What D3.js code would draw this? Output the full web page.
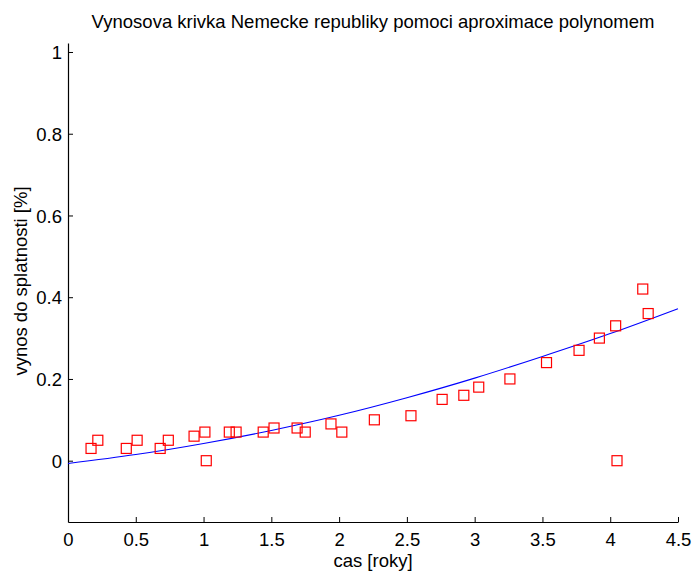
<!DOCTYPE html>
<html>
<head>
<meta charset="utf-8">
<script src="https://cdn.jsdelivr.net/npm/d3@7"></script>
<style>
  html, body { margin: 0; padding: 0; background: #fff; }
  svg { display: block; font-family: "Liberation Sans", Arial, sans-serif; }
</style>
</head>
<body>
<svg id="chart" width="692" height="572"></svg>
<script>
// Maturity in years and observed yield
const maturity = [0.17, 0.22, 0.43, 0.51, 0.68, 0.74, 0.93, 1.01, 1.02, 1.19,
                  1.24, 1.44, 1.52, 1.69, 1.75, 1.94, 2.02, 2.26, 2.53, 2.76,
                  2.92, 3.03, 3.26, 3.53, 3.77, 3.92, 4.04, 4.05, 4.24, 4.28];
const yieldPct = [0.03, 0.05, 0.03, 0.05, 0.03, 0.05, 0.06, 0.07, 0.00, 0.07,
                  0.07, 0.07, 0.08, 0.08, 0.07, 0.09, 0.07, 0.10, 0.11, 0.15,
                  0.16, 0.18, 0.20, 0.24, 0.27, 0.30, 0.33, 0.00, 0.42, 0.36];
// Polynomial approximation of the yield curve, sampled every half year
const curveMaturity = [0, 0.5, 1, 1.5, 2, 2.5, 3, 3.5, 4, 4.5];
const curveYield = [-0.007, 0.015, 0.042, 0.074, 0.111, 0.154, 0.202, 0.255, 0.311, 0.372];
const xTicks = [0, 0.5, 1, 1.5, 2, 2.5, 3, 3.5, 4, 4.5];
const yTicks = [0, 0.2, 0.4, 0.6, 0.8, 1];

const svg = d3.select("#chart");
const mLeft = 68, mRight = 678, mTop = 43, mBottom = 522;
const fontSize = 18.5;

const x = d3.scaleLinear().domain([0, 4.5]).range([mLeft, mRight]);
const y = d3.scaleLinear().domain([-0.15, 1.022]).range([mBottom, mTop]);

// Axes (left and bottom only, ticks pointing inward)
const xAxis = d3.axisBottom(x).tickValues(xTicks).tickSizeInner(-5).tickSizeOuter(0)
  .tickFormat(d => d3.format("")(d));
const yAxis = d3.axisLeft(y).tickValues(yTicks).tickSizeInner(-5).tickSizeOuter(0)
  .tickFormat(d => d3.format("")(d));

const gx = svg.append("g").attr("transform", `translate(0,${mBottom})`).call(xAxis);
const gy = svg.append("g").attr("transform", `translate(${mLeft},0)`).call(yAxis);
[gx, gy].forEach(g => {
  g.select(".domain").attr("stroke", "#000").attr("stroke-width", 1.2);
  g.selectAll(".tick line").attr("stroke", "#000").attr("stroke-width", 1);
  g.selectAll(".tick text").attr("fill", "#000").attr("font-size", fontSize)
    .attr("font-family", "Liberation Sans, Arial, sans-serif");
});
gx.selectAll(".tick text").attr("dy", null).attr("y", 24);
gy.selectAll(".tick text").attr("x", -6).attr("dy", "0.36em");

// Fitted curve
svg.append("path")
  .datum(curveMaturity.map((m, i) => [m, curveYield[i]]))
  .attr("fill", "none")
  .attr("stroke", "#0000ff")
  .attr("stroke-width", 1.1)
  .attr("d", d3.line().x(d => x(d[0])).y(d => y(d[1])).curve(d3.curveNatural));

// Observed points as open squares
const side = 10;
svg.append("g").selectAll("rect")
  .data(maturity.map((m, i) => [m, yieldPct[i]]))
  .join("rect")
  .attr("x", d => x(d[0]) - side / 2)
  .attr("y", d => y(d[1]) - side / 2)
  .attr("width", side).attr("height", side)
  .attr("fill", "none")
  .attr("stroke", "#ff0000")
  .attr("stroke-width", 1.2);

// Labels
svg.append("text").attr("x", (mLeft + mRight) / 2).attr("y", 28)
  .attr("text-anchor", "middle").attr("font-size", fontSize).attr("fill", "#000")
  .text("Vynosova krivka Nemecke republiky pomoci aproximace polynomem");
svg.append("text").attr("x", (mLeft + mRight) / 2).attr("y", 567)
  .attr("text-anchor", "middle").attr("font-size", fontSize).attr("fill", "#000")
  .text("cas [roky]");
svg.append("text")
  .attr("transform", `translate(27,281) rotate(-90)`)
  .attr("text-anchor", "middle").attr("font-size", fontSize).attr("fill", "#000")
  .text("vynos do splatnosti [%]");
</script>
</body>
</html>
